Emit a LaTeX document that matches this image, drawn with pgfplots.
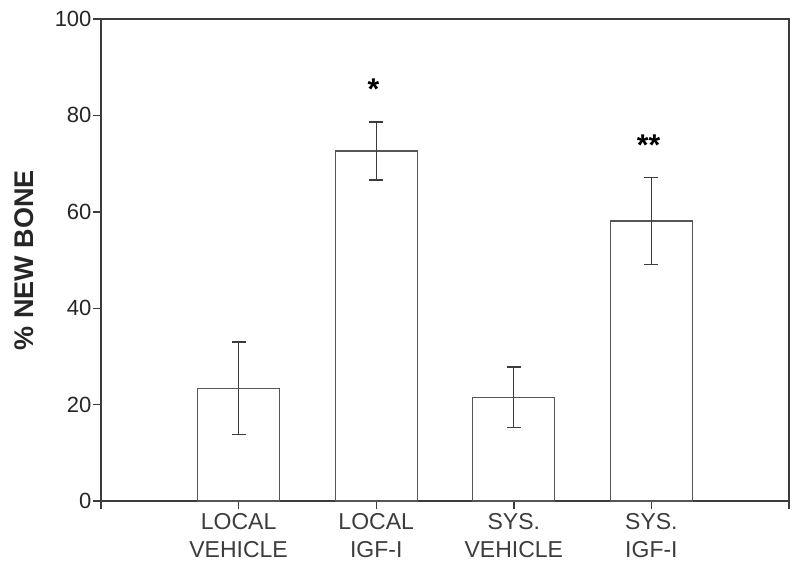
\documentclass[border=0pt]{standalone}
\usepackage{fontspec}
\setmainfont{Liberation Sans}
\usepackage{pgfplots}
\pgfplotsset{compat=1.18}
\definecolor{axisgray}{HTML}{3C3C3C}
\definecolor{bargray}{HTML}{555555}

\begin{document}
\begin{tikzpicture}
\begin{axis}[
  scale only axis,
  width=688pt, height=482pt,
  xmin=0, xmax=5, ymin=0, ymax=100,
  axis line style={axisgray, line width=1.4pt},
  tick style={axisgray, line width=1.4pt},
  tick align=outside, tick pos=left,
  major tick length=8pt,
  xtick={0,1,2,3,4,5},
  xticklabels={,LOCAL\\VEHICLE,LOCAL\\IGF-I,SYS.\\VEHICLE,SYS.\\IGF-I,},
  xticklabel style={align=center, font=\fontsize{23}{28}\selectfont, text=axisgray, yshift=-1pt},
  ytick={0,20,40,60,80,100},
  yticklabel style={font=\fontsize{22}{24}\selectfont, text=black!85, xshift=2pt},
  /pgf/number format/assume math mode=true,
  ylabel={\% NEW BONE},
  ylabel style={at={(axis description cs:-0.093,0.5)}, anchor=south,
    font=\bfseries\fontsize{27}{30}\selectfont, text=black!85},
  ybar, bar width=82pt,
]
\addplot[draw=bargray, fill=white, line width=1.2pt,
  error bars/.cd, y dir=both, y explicit,
  error bar style={axisgray, line width=1.3pt},
  error mark options={rotate=90, mark size=7pt, axisgray, line width=1.3pt}]
  coordinates {
  (1,23.4) +- (0,9.6)
  (2,72.6) +- (0,6.0)
  (3,21.5) +- (0,6.3)
  (4,58.1) +- (0,9.0)
};
\node[font=\bfseries\fontsize{30}{30}\selectfont] at (axis cs:1.98,85.4) {*};
\node[font=\bfseries\fontsize{30}{30}\selectfont] at (axis cs:3.98,73.8) {**};
\end{axis}
\path[use as bounding box] ([shift={(-101pt,-70pt)}]current axis.south west)
  rectangle ([shift={(11pt,19pt)}]current axis.north east);
\end{tikzpicture}
\end{document}
